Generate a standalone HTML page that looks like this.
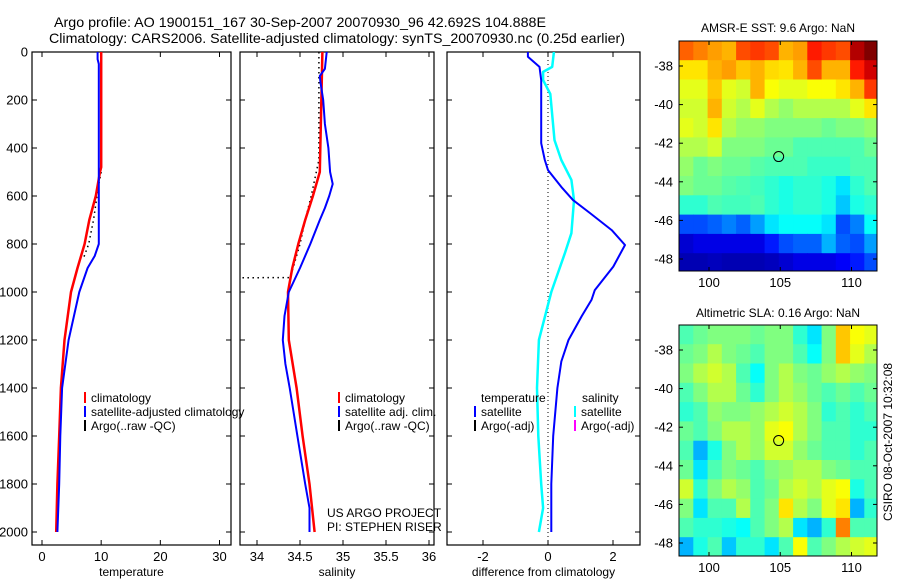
<!DOCTYPE html>
<html><head><meta charset="utf-8">
<style>
html,body{margin:0;padding:0;background:#fff;}
svg{display:block;font-family:"Liberation Sans",sans-serif;}
</style></head>
<body>
<svg id="fig" width="900" height="580" viewBox="0 0 900 580" xmlns="http://www.w3.org/2000/svg">
<text x="54" y="27" font-size="14" textLength="492" lengthAdjust="spacingAndGlyphs">Argo profile: AO 1900151_167 30-Sep-2007 20070930_96 42.692S 104.888E</text>
<text x="49" y="43" font-size="14" textLength="576" lengthAdjust="spacingAndGlyphs">Climatology: CARS2006. Satellite-adjusted climatology: synTS_20070930.nc (0.25d earlier)</text>
<text x="778" y="32" font-size="12" text-anchor="middle">AMSR-E SST: 9.6 Argo: NaN</text>
<text x="778" y="317" font-size="12" text-anchor="middle">Altimetric SLA: 0.16 Argo: NaN</text>
<text transform="translate(892,442) rotate(-90)" font-size="12" text-anchor="middle">CSIRO 08-Oct-2007 10:32:08</text>
<text x="327" y="517" font-size="12">US ARGO PROJECT</text>
<text x="327" y="531" font-size="12">PI: STEPHEN RISER</text>
<g id="layer"></g>
</svg>
<script>
// ---- profile data ----
const tempClimDepth=[0,480,500,600,700,800,900,1000,1200,1400,1600,1800,2000];
const tempClim=[10.0,10.0,9.8,9.1,8.0,7.2,6.0,4.9,3.8,3.2,2.9,2.6,2.4];
const tempSatDepth=[0,30,50,800,850,900,1000,1200,1400,1600,1800,2000];
const tempSat=[9.4,9.4,9.6,9.6,8.9,7.7,6.3,4.5,3.4,3.1,2.9,2.6];
const tempArgoDepth=[0,500,550,700,800,860];
const tempArgo=[10.0,10.0,9.6,8.7,7.9,7.0];
const salClimDepth=[0,500,600,700,800,900,1000,1200,1400,1600,1800,2000];
const salClim=[34.76,34.73,34.65,34.56,34.48,34.41,34.36,34.37,34.46,34.53,34.61,34.67];
const salSatDepth=[0,70,100,130,200,300,400,500,550,600,650,700,800,900,1000,1100,1200,1300,1400,1600,1800,1900,2000];
const salSat=[34.81,34.79,34.73,34.74,34.77,34.79,34.83,34.85,34.88,34.84,34.79,34.73,34.62,34.5,34.37,34.32,34.30,34.33,34.38,34.47,34.56,34.61,34.61];
const salArgoDepth=[0,450,500,600,700,800,900,940,941];
const salArgo=[34.72,34.72,34.69,34.63,34.56,34.5,34.42,34.38,33.6];
const dTDepth=[0,20,62,117,380,450,492,562,617,671,742,804,894,992,1033,1100,1200,1290,1400,1600,1800,2000];
const dT=[-0.62,-0.62,-0.26,-0.21,-0.21,-0.10,0,0.41,0.77,1.29,1.96,2.37,2.01,1.44,1.34,1.04,0.63,0.41,0.29,0.16,0.10,0.10];
const dSDepth=[0,62,83,117,175,367,450,533,617,755,838,1000,1100,1200,1400,1600,1800,1900,2000];
const dS=[0.18,0.13,-0.15,-0.15,0.07,0.2,0.41,0.72,0.80,0.72,0.52,0.1,-0.09,-0.28,-0.34,-0.30,-0.21,-0.15,-0.28];
const depthTicks=[0,200,400,600,800,1000,1200,1400,1600,1800,2000];
const tempTicks=[0,10,20,30];
const salTicks=[34,34.5,35,35.5,36];
const salTickLabels=["34","34.5","35","35.5","36"];
const diffTicks=[-2,0,2];
// ---- map data (normalised colour values, rows north->south) ----
const mapLons=[98.4,99.4,100.4,101.4,102.4,103.4,104.4,105.4,106.4,107.4,108.4,109.4,110.4,111.4];
const mapLats=[-37.2,-38.2,-39.2,-40.2,-41.2,-42.2,-43.2,-44.2,-45.2,-46.2,-47.2,-48.2];
const sstGrid=[
[0.78,0.75,0.72,0.7,0.8,0.82,0.8,0.7,0.72,0.85,0.82,0.8,0.95,1.0],
[0.65,0.65,0.7,0.72,0.68,0.7,0.66,0.65,0.7,0.8,0.7,0.7,0.85,0.92],
[0.6,0.6,0.68,0.6,0.58,0.7,0.62,0.6,0.6,0.62,0.62,0.65,0.7,0.82],
[0.58,0.58,0.7,0.58,0.55,0.6,0.55,0.52,0.55,0.55,0.55,0.55,0.6,0.65],
[0.6,0.58,0.65,0.55,0.52,0.52,0.5,0.5,0.5,0.5,0.48,0.5,0.5,0.52],
[0.55,0.55,0.58,0.5,0.5,0.5,0.48,0.48,0.45,0.45,0.45,0.45,0.45,0.48],
[0.52,0.48,0.5,0.48,0.48,0.46,0.45,0.45,0.45,0.43,0.43,0.43,0.45,0.45],
[0.5,0.48,0.48,0.46,0.45,0.44,0.42,0.4,0.42,0.42,0.4,0.35,0.42,0.45],
[0.42,0.42,0.45,0.44,0.44,0.45,0.42,0.4,0.42,0.42,0.4,0.32,0.4,0.42],
[0.2,0.2,0.22,0.25,0.22,0.28,0.35,0.38,0.38,0.38,0.35,0.2,0.25,0.38],
[0.08,0.1,0.1,0.1,0.1,0.1,0.15,0.2,0.22,0.22,0.3,0.22,0.2,0.28],
[0.05,0.05,0.06,0.05,0.05,0.05,0.06,0.08,0.1,0.1,0.1,0.12,0.15,0.2]];
const slaGrid=[
[0.45,0.48,0.5,0.5,0.5,0.48,0.5,0.5,0.42,0.35,0.5,0.68,0.62,0.6],
[0.48,0.5,0.55,0.5,0.48,0.45,0.5,0.5,0.45,0.38,0.5,0.68,0.6,0.55],
[0.5,0.55,0.58,0.55,0.45,0.38,0.5,0.55,0.5,0.48,0.52,0.55,0.52,0.5],
[0.45,0.5,0.55,0.55,0.48,0.42,0.5,0.55,0.52,0.48,0.45,0.48,0.45,0.48],
[0.42,0.45,0.52,0.5,0.5,0.52,0.55,0.58,0.55,0.5,0.42,0.45,0.42,0.45],
[0.48,0.45,0.5,0.55,0.55,0.52,0.6,0.62,0.55,0.5,0.45,0.45,0.42,0.42],
[0.45,0.3,0.4,0.5,0.55,0.52,0.58,0.58,0.52,0.48,0.45,0.45,0.42,0.45],
[0.48,0.35,0.45,0.5,0.48,0.45,0.5,0.52,0.55,0.55,0.5,0.48,0.45,0.45],
[0.58,0.42,0.5,0.55,0.52,0.45,0.48,0.55,0.58,0.55,0.6,0.62,0.4,0.45],
[0.5,0.35,0.45,0.45,0.55,0.45,0.5,0.65,0.55,0.5,0.6,0.65,0.3,0.42],
[0.45,0.42,0.42,0.4,0.38,0.45,0.5,0.55,0.35,0.3,0.42,0.75,0.45,0.45],
[0.3,0.4,0.45,0.32,0.42,0.42,0.35,0.45,0.62,0.45,0.5,0.55,0.58,0.6]];
const lonTicks=[100,105,110];
const latTicks=[-38,-40,-42,-44,-46,-48];
const floatLon=104.888, floatLat=-42.692;

const NS="http://www.w3.org/2000/svg";
const layer=document.getElementById('layer');
function mk(tag,attrs,parent){const e=document.createElementNS(NS,tag);for(const k in attrs)e.setAttribute(k,attrs[k]);(parent||layer).appendChild(e);return e;}
function lin(d0,d1,r0,r1){return v=>r0+(v-d0)*(r1-r0)/(d1-d0);}
const yDepth=lin(0,2000,52,532);
const PT=13;
const PLOTTOP=52, PLOTBOT=545;

function panel(name,x0,x1,xs,ticks,labels,xlabel,showDepthLabels){
  const g=mk('g',{});
  
  
  const r=mk('rect',{x:x0,y:PLOTTOP,width:x1-x0,height:PLOTBOT-PLOTTOP,fill:'none',stroke:'#000','stroke-width':1.2},g);
  
  
  depthTicks.forEach(d=>{const y=yDepth(d);
    mk('line',{x1:x0,x2:x0+5,y1:y,y2:y,stroke:'#000'},g);
    mk('line',{x1:x1-5,x2:x1,y1:y,y2:y,stroke:'#000'},g);
    if(showDepthLabels){const t=mk('text',{x:x0-4,y:y+4.5,'font-size':PT,'text-anchor':'end'},g);t.textContent=d;
      
      }
  });
  ticks.forEach((v,i)=>{const x=xs(v);
    mk('line',{x1:x,x2:x,y1:PLOTBOT,y2:PLOTBOT-5,stroke:'#000'},g);
    mk('line',{x1:x,x2:x,y1:PLOTTOP,y2:PLOTTOP+5,stroke:'#000'},g);
    const t=mk('text',{x:x,y:PLOTBOT+16,'font-size':PT,'text-anchor':'middle'},g);t.textContent=labels[i];
    
    
  });
  const xl=mk('text',{x:(x0+x1)/2,y:PLOTBOT+31,'font-size':12,'text-anchor':'middle'},g);xl.textContent=xlabel;
  
  
  const cp=mk('clipPath',{id:'clip-'+name},g);mk('rect',{x:x0,y:PLOTTOP,width:x1-x0,height:PLOTBOT-PLOTTOP},cp);
  return g;
}
function series(g,name,clipName,xs,depths,vals,color,w,dash){
  const pts=depths.map((d,i)=>xs(vals[i]).toFixed(1)+','+yDepth(d).toFixed(1)).join(' ');
  const a={points:pts,fill:'none',stroke:color,'stroke-width':w,'clip-path':'url(#clip-'+clipName+')','stroke-linejoin':'round'};
  if(dash)a['stroke-dasharray']=dash;
  const p=mk('polyline',a,g);
  
  
}
function legendEntry(g,x,y,color,text){
  mk('line',{x1:x,x2:x,y1:y-10,y2:y+1,stroke:color,'stroke-width':2},g);
  const t=mk('text',{x:x+6,y:y,'font-size':12},g);t.textContent=text;
  
  
}

// temperature panel
const xT=lin(0,30,42,219.5);
const gT=panel('temperature-panel',32,231,xT,tempTicks,tempTicks.map(String),'temperature',true);
series(gT,'temp-argo-line','temperature-panel',xT,tempArgoDepth,tempArgo,'#000',1.5,'1.5,3.5');
series(gT,'temp-climatology-line','temperature-panel',xT,tempClimDepth,tempClim,'#f00',2.5);
series(gT,'temp-satellite-line','temperature-panel',xT,tempSatDepth,tempSat,'#00f',2);
legendEntry(gT,85,402,'#f00','climatology');
legendEntry(gT,85,416,'#00f','satellite-adjusted climatology');
legendEntry(gT,85,430,'#000','Argo(..raw -QC)');
// salinity panel
const xS=lin(34,35,257,343);
const gS=panel('salinity-panel',240,434,xS,salTicks,salTickLabels,'salinity',false);
series(gS,'sal-argo-line','salinity-panel',xS,salArgoDepth,salArgo,'#000',1.5,'1.5,3.5');
series(gS,'sal-climatology-line','salinity-panel',xS,salClimDepth,salClim,'#f00',2.5);
series(gS,'sal-satellite-line','salinity-panel',xS,salSatDepth,salSat,'#00f',2);
legendEntry(gS,339,402,'#f00','climatology');
legendEntry(gS,339,416,'#00f','satellite adj. clim.');
legendEntry(gS,339,430,'#000','Argo(..raw -QC)');
// difference panel
const xD=lin(-2,2,483,613);
const gD=panel('difference-panel',447,640,xD,diffTicks,diffTicks.map(String),'difference from climatology',false);
const zl=mk('line',{x1:xD(0),x2:xD(0),y1:PLOTTOP,y2:PLOTBOT,stroke:'#000','stroke-dasharray':'1,3'},gD);


series(gD,'diff-salinity-satellite-line','difference-panel',xD,dSDepth,dS,'#0ff',2.5);
series(gD,'diff-temperature-satellite-line','difference-panel',xD,dTDepth,dT,'#00f',2);
{const t=mk('text',{x:481,y:402,'font-size':12},gD);t.textContent='temperature';
 
 
 const s=mk('text',{x:582,y:402,'font-size':12},gD);s.textContent='salinity';
 
 }
legendEntry(gD,475,416,'#00f','satellite');
legendEntry(gD,475,430,'#000','Argo(-adj)');
legendEntry(gD,575,416,'#0ff','satellite');
legendEntry(gD,575,430,'#f0f','Argo(-adj)');

// jet colormap
function jet(v){v=Math.max(0,Math.min(1,v));
  const r=Math.max(0,Math.min(1,Math.min(4*v-1.5,-4*v+4.5)));
  const g=Math.max(0,Math.min(1,Math.min(4*v-0.5,-4*v+3.5)));
  const b=Math.max(0,Math.min(1,Math.min(4*v+0.5,-4*v+2.5)));
  return 'rgb('+Math.round(r*255)+','+Math.round(g*255)+','+Math.round(b*255)+')';}

function map(name,top,bot,grid){
  const x0=679,x1=877;
  const xs=lin(100,110,709,851.5);
  const ys=lin(-38,-48,top+25,top+218);
  const g=mk('g',{});
  
  
  const cp=mk('clipPath',{id:'clip-'+name},g);mk('rect',{x:x0,y:top,width:x1-x0,height:bot-top},cp);
  const cg=mk('g',{'clip-path':'url(#clip-'+name+')'},g);
  grid.forEach((row,ri)=>row.forEach((v,ci)=>{
    const cx=xs(mapLons[ci]-0.5), cy=ys(mapLats[ri]+0.5);
    const c=mk('rect',{x:cx.toFixed(1),y:cy.toFixed(1),width:(xs(mapLons[ci]+0.5)-cx+0.6).toFixed(1),height:(ys(mapLats[ri]-0.5)-cy+0.6).toFixed(1),fill:jet(v)},cg);
    
    
  }));
  mk('rect',{x:x0,y:top,width:x1-x0,height:bot-top,fill:'none',stroke:'#000','stroke-width':1},g);
  lonTicks.forEach(l=>{const x=xs(l);
    mk('line',{x1:x,x2:x,y1:bot,y2:bot-4,stroke:'#000'},g);
    mk('line',{x1:x,x2:x,y1:top,y2:top+4,stroke:'#000'},g);
    const t=mk('text',{x:x,y:bot+16,'font-size':PT,'text-anchor':'middle'},g);t.textContent=l;
    
    });
  latTicks.forEach(l=>{const y=ys(l);
    mk('line',{x1:x0,x2:x0+4,y1:y,y2:y,stroke:'#000'},g);
    mk('line',{x1:x1-4,x2:x1,y1:y,y2:y,stroke:'#000'},g);
    const t=mk('text',{x:x0-6,y:y+4.5,'font-size':PT,'text-anchor':'end'},g);t.textContent=l;
    
    });
  const c=mk('circle',{cx:xs(floatLon),cy:ys(floatLat),r:5,fill:'none',stroke:'#000','stroke-width':1},g);
  
  
}
map('sst-map',41,271,sstGrid);
map('sla-map',325,556,slaGrid);
</script>
</body></html>
